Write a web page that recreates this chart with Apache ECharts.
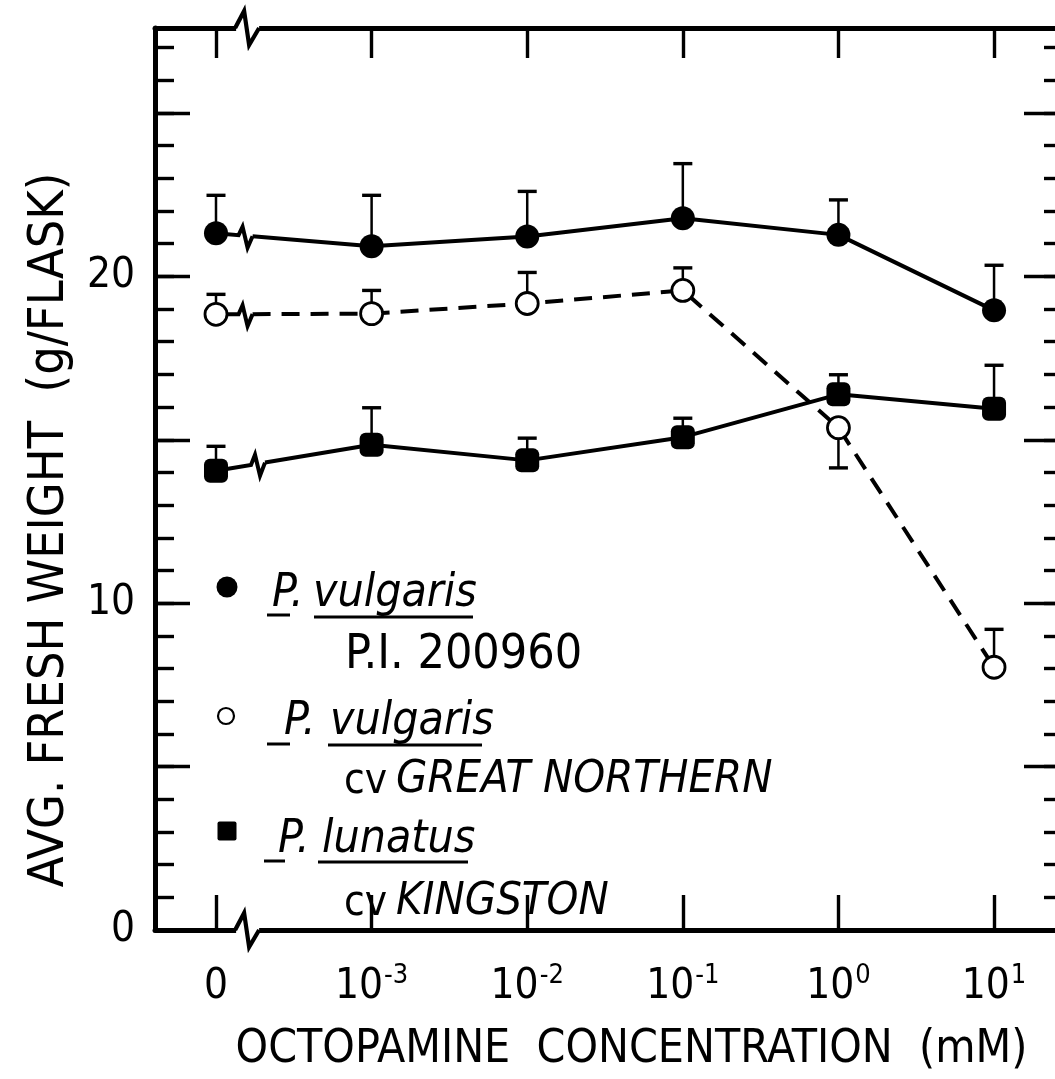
<!DOCTYPE html>
<html><head><meta charset="utf-8">
<script src="https://cdn.jsdelivr.net/npm/echarts@6/dist/echarts.min.js"></script>
<style>html,body{margin:0;padding:0;background:#fff}#c{width:1055px;height:1079px}</style>
</head><body><div id="c"></div>
<script>
// ---- data ----
const categories = ['0', '10^-3', '10^-2', '10^-1', '10^0', '10^1']; // octopamine (mM)
const concIndex = [0, 1, 2, 3, 4, 5];
const vulgarisPI = [21.32, 20.92, 21.22, 21.78, 21.27, 18.96];
const vulgarisPIErr = [1.16, 1.56, 1.38, 1.67, 1.07, 1.38];
const vulgarisGN = [18.84, 18.86, 19.17, 19.57, 15.37, 8.04];
const vulgarisGNErr = [0.61, 0.71, 0.95, 0.69, -1.23, 1.16]; // negative: bar drawn downward
const lunatusK = [14.05, 14.85, 14.37, 15.08, 16.39, 15.95];
const lunatusKErr = [0.75, 1.13, 0.68, 0.58, 0.60, 1.33];
const yLabelValues = [0, 10, 20];

const X_MIN = -0.392, X_MAX = 5.411, Y_MIN = 0, Y_MAX = 27.6;
const FONT = '"Liberation Sans Narrow","DejaVu Sans Condensed","Liberation Sans",sans-serif';
const K = '#000';
const LW = 4;

const chart = echarts.init(document.getElementById('c'), null, {renderer: 'canvas'});

function errorSeries(vals, errs) {
  return {
    type: 'custom', xAxisIndex: 0, yAxisIndex: 0, z: 3, silent: true,
    data: vals.map((v, i) => [concIndex[i], v, v + errs[i]]),
    renderItem: (params, api) => {
      const p = api.coord([api.value(0), api.value(1)]);
      const q = api.coord([api.value(0), api.value(2)]);
      return {type: 'group', children: [
        {type: 'line', shape: {x1: p[0], y1: p[1], x2: q[0], y2: q[1]}, style: {stroke: K, lineWidth: 2.5}},
        {type: 'line', shape: {x1: q[0] - 9.5, y1: q[1], x2: q[0] + 9.5, y2: q[1]}, style: {stroke: K, lineWidth: 3.4}}
      ]};
    }
  };
}

function breakSegment(vals, breakX, dashed) {
  return {
    type: 'custom', xAxisIndex: 0, yAxisIndex: 0, z: 3, silent: true,
    data: [[concIndex[0], vals[0], concIndex[1], vals[1]]],
    renderItem: (params, api) => {
      const p0 = api.coord([api.value(0), api.value(1)]);
      const p1 = api.coord([api.value(2), api.value(3)]);
      const bx = api.coord([breakX, 0])[0];
      const f = (x) => p0[1] + (p1[1] - p0[1]) * (x - p0[0]) / (p1[0] - p0[0]);
      const zig = [p0, [bx - 7, f(bx - 7)], [bx - 3, f(bx) - 9], [bx + 2, f(bx) + 12], [bx + 7, f(bx + 7)]];
      const rest = [[bx + 7, f(bx + 7)], p1];
      return {type: 'group', children: [
        {type: 'polyline', shape: {points: zig}, style: {stroke: K, lineWidth: LW, fill: null, lineJoin: 'miter'}},
        {type: 'polyline', shape: {points: rest}, style: {stroke: K, lineWidth: LW, fill: null, lineDash: dashed ? [18, 11] : null}}
      ]};
    }
  };
}

function axisBreak(breakX) {
  return {
    type: 'custom', xAxisIndex: 0, yAxisIndex: 0, z: 4, silent: true,
    data: [[breakX, Y_MIN], [breakX, Y_MAX]],
    renderItem: (params, api) => {
      const p = api.coord([api.value(0), api.value(1)]);
      return {type: 'group', children: [
        {type: 'rect', shape: {x: p[0] - 11, y: p[1] - 4, width: 23, height: 8}, style: {fill: '#fff'}},
        {type: 'polyline', shape: {points: [[p[0] - 12, p[1]], [p[0] - 3, p[1] - 17], [p[0] + 2, p[1] + 17], [p[0] + 12, p[1]]]},
          style: {stroke: K, lineWidth: 4.2, fill: null, lineJoin: 'miter'}}
      ]};
    }
  };
}

function lineRest(vals, dashed) {
  return {
    type: 'line', xAxisIndex: 0, yAxisIndex: 0, z: 3, silent: true,
    data: vals.slice(1).map((v, i) => [concIndex[i + 1], v]),
    showSymbol: false, symbol: 'none',
    lineStyle: {color: K, width: LW, type: dashed ? [18, 11] : 'solid'}
  };
}

function markers(vals, symbol, size, fill, border) {
  return {
    type: 'scatter', xAxisIndex: 0, yAxisIndex: 0, z: 6,
    data: vals.map((v, i) => [concIndex[i], v]),
    symbol: symbol, symbolSize: size,
    itemStyle: {color: fill, borderColor: K, borderWidth: border, opacity: 1}
  };
}

const axisLineStyle = {show: true, onZero: false, lineStyle: {color: K, width: 5}};

const xBase = {
  type: 'value', min: X_MIN, max: X_MAX, gridIndex: 0,
  splitLine: {show: false}, axisLine: axisLineStyle
};
const yBase = {
  type: 'value', min: Y_MIN, max: Y_MAX, gridIndex: 0,
  splitLine: {show: false}
};

const option = {
  backgroundColor: '#fff',
  animation: false,
  grid: {left: 155, top: 28, width: 903, height: 902, containLabel: false, outerBoundsMode: 'none'},
  xAxis: [
    Object.assign({}, xBase, {
      position: 'bottom',
      name: 'OCTOPAMINE  CONCENTRATION  (mM)', nameLocation: 'middle', nameGap: 97,
      nameTextStyle: {fontFamily: FONT, fontSize: 46, color: K, padding: [0, 0, 0, 50]},
      axisTick: {show: true, inside: true, length: 35, customValues: concIndex, lineStyle: {color: K, width: 3.4}},
      axisLabel: {
        show: true, margin: 32, customValues: concIndex, color: K,
        formatter: (v) => {
          const s = categories[Math.round(v)];
          if (s.indexOf('^') >= 0) { const a = s.split('^'); return '{b|' + a[0] + '}{e|' + a[1] + '}'; }
          return '{b|' + s + '}';
        },
        rich: {
          b: {fontFamily: FONT, fontSize: 42, color: K, lineHeight: 46, verticalAlign: 'bottom'},
          e: {fontFamily: FONT, fontSize: 27, color: K, lineHeight: 46, verticalAlign: 'top', padding: [0, 0, 0, 1]}
        }
      }
    }),
    Object.assign({}, xBase, {
      position: 'top',
      axisTick: {show: true, inside: true, length: 30, customValues: concIndex, lineStyle: {color: K, width: 3.4}},
      axisLabel: {show: false}
    })
  ],
  yAxis: [
    Object.assign({}, yBase, {
      position: 'left', interval: 1,
      axisLine: axisLineStyle,
      name: 'AVG. FRESH WEIGHT  (g/FLASK)', nameLocation: 'middle', nameGap: 80, nameRotate: 90,
      nameTextStyle: {fontFamily: FONT, fontSize: 50, color: K, padding: [0, 102, 0, 0]},
      axisTick: {show: true, inside: true, length: 19, lineStyle: {color: K, width: 3.4}},
      axisLabel: {
        show: true, margin: 20, fontFamily: FONT, fontSize: 42, color: K,
        formatter: (v) => (yLabelValues.indexOf(v) >= 0 ? String(v) : '')
      }
    }),
    Object.assign({}, yBase, {
      position: 'left', interval: 5,
      axisLine: {show: false, onZero: false},
      axisTick: {show: true, inside: true, length: 35, lineStyle: {color: K, width: 3.4}},
      axisLabel: {show: false}
    }),
    Object.assign({}, yBase, {
      position: 'right', interval: 1,
      axisLine: axisLineStyle,
      axisTick: {show: true, inside: true, length: 14, lineStyle: {color: K, width: 3.4}},
      axisLabel: {show: false}
    }),
    Object.assign({}, yBase, {
      position: 'right', interval: 5,
      axisLine: {show: false, onZero: false},
      axisTick: {show: true, inside: true, length: 34, lineStyle: {color: K, width: 3.4}},
      axisLabel: {show: false}
    })
  ],
  graphic: {elements: buildLegend()},
  series: [
    axisBreak(0.2),
    errorSeries(vulgarisPI, vulgarisPIErr),
    errorSeries(vulgarisGN, vulgarisGNErr),
    errorSeries(lunatusK, lunatusKErr),
    breakSegment(vulgarisPI, 0.19, false),
    breakSegment(vulgarisGN, 0.19, true),
    breakSegment(lunatusK, 0.27, false),
    lineRest(vulgarisPI, false),
    lineRest(vulgarisGN, true),
    lineRest(lunatusK, false),
    markers(vulgarisPI, 'circle', 24, K, 0),
    markers(vulgarisGN, 'circle', 22, '#fff', 2.8),
    markers(lunatusK, 'roundRect', 24, K, 0)
  ]
};

function txt(x, y, s, size, italic) {
  return {type: 'text', x: x, y: y, silent: true, z: 10,
    style: {text: s, fill: K, font: (italic ? 'italic ' : '') + size + 'px ' + FONT, textAlign: 'left', textVerticalAlign: 'bottom'}};
}
function ul(x1, x2, y) {
  return {type: 'line', silent: true, z: 10, shape: {x1: x1, y1: y, x2: x2, y2: y}, style: {stroke: K, lineWidth: 3}};
}
function buildLegend() {
  return [
    {type: 'circle', shape: {cx: 227, cy: 587, r: 10.5}, style: {fill: K}, z: 10, silent: true},
    txt(272, 617, 'P.', 46, true), txt(313, 617, 'vulgaris', 46, true),
    ul(267, 290, 615), ul(314, 473, 617),
    txt(345, 680, 'P.I. 200960', 48, false),
    {type: 'circle', shape: {cx: 226, cy: 716, r: 8}, style: {fill: '#fff', stroke: K, lineWidth: 2.2}, z: 10, silent: true},
    txt(284, 745, 'P.', 46, true), txt(330, 745, 'vulgaris', 46, true),
    ul(267, 290, 744), ul(328, 482, 745),
    txt(344, 803, 'cv', 42, false), txt(396, 803, 'GREAT NORTHERN', 45, true),
    {type: 'rect', shape: {x: 217.5, y: 821.5, width: 19, height: 19, r: 2}, style: {fill: K}, z: 10, silent: true},
    txt(278, 863, 'P.', 46, true), txt(322, 863, 'lunatus', 46, true),
    ul(264, 285, 861), ul(318, 468, 862),
    txt(344, 925, 'cv', 42, false), txt(396, 925, 'KINGSTON', 45, true)
  ];
}

chart.setOption(option);
</script>
</body></html>
